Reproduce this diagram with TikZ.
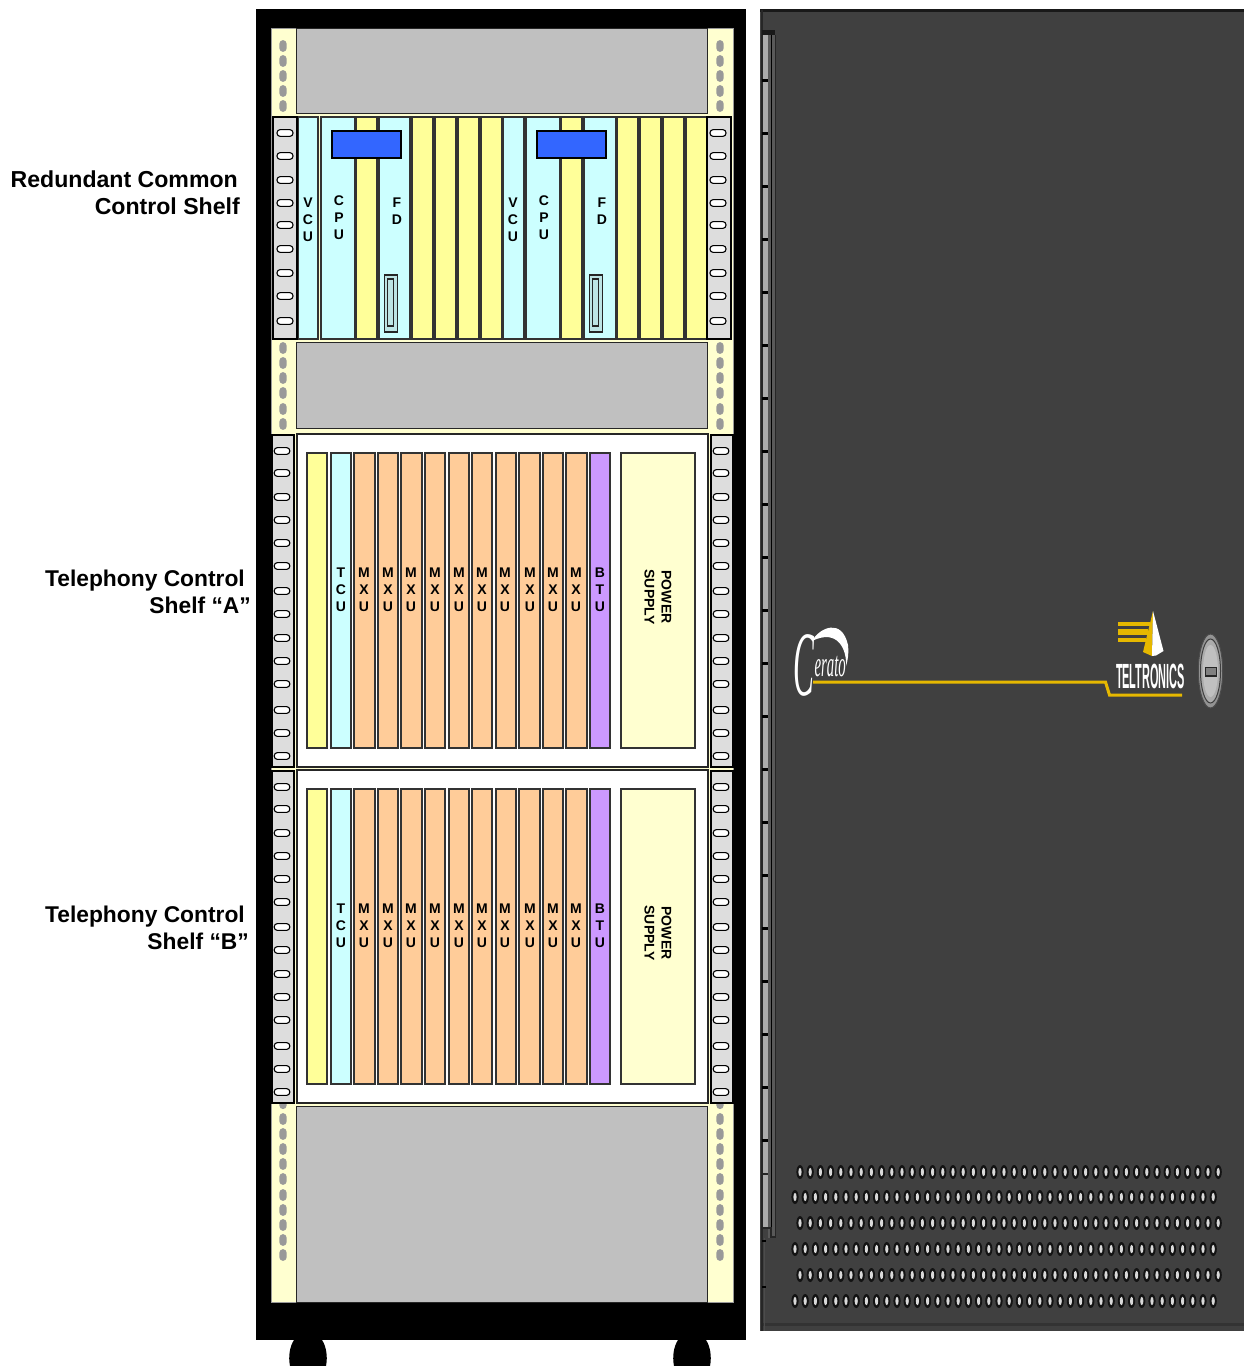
\documentclass[tikz,border=0pt]{standalone}
\usepackage{fontspec}
\setmainfont{Liberation Sans}
\newfontfamily\serifit{Liberation Serif}
\definecolor{cream}{HTML}{FFFFD0}
\definecolor{cardyellow}{HTML}{FFFF99}
\definecolor{cardcyan}{HTML}{CCFFFF}
\definecolor{cardorange}{HTML}{FFCC99}
\definecolor{cardpurple}{HTML}{CC99FF}
\definecolor{railgray}{HTML}{DDDDDD}
\definecolor{panelgray}{HTML}{C0C0C0}
\definecolor{pillgray}{HTML}{999999}
\definecolor{cabgray}{HTML}{404040}
\definecolor{logoyellow}{HTML}{E6B800}
\definecolor{cardblue}{HTML}{3366FF}
\tikzset{
  x=1pt,y=-1pt,
  card/.style={draw=black!80,line width=1.1pt},
  panel/.style={draw=black!85,line width=1pt,fill=panelgray},
  railbox/.style={draw=black,line width=2pt,fill=railgray},
  hole/.style={draw=black,line width=1.1pt,fill=white,rounded corners=3.2pt},
  pill/.style={fill=pillgray,rounded corners=3.4pt},
  shelflabel/.style={font=\fontsize{23.1}{27}\selectfont\bfseries,align=right,anchor=north east,inner sep=0pt},
  telelabel/.style={shelflabel,font=\fontsize{22.8}{27}\selectfont\bfseries},
  cardtext/.style={font=\fontsize{14}{17}\selectfont\bfseries,align=center,inner sep=0pt},
}
\newcommand{\cardbox}[3]{\draw[card,fill=#3] (#1,\cardtop) rectangle (#2,\cardbot);}
\begin{document}
\begin{tikzpicture}
\useasboundingbox (0,0) rectangle (1244,1366);
% rack body and casters
\fill[black] (256,9) rectangle (746,1340);
\foreach \c in {308,692}{
  \fill[black] (\c-14,1340) .. controls (\c-18,1346) and (\c-20,1356) .. (\c-18,1366) -- (\c+18,1366) .. controls (\c+20,1356) and (\c+18,1346) .. (\c+14,1340) -- cycle;
}
\draw[draw=pillgray,line width=.8pt,fill=cream] (271,28) rectangle (733,1302);
% blanking panels
\draw[panel] (296,28) rectangle (707,113);
\draw[panel] (296,342) rectangle (707,428);
\draw[panel] (296,1106) rectangle (707,1302);
% pills
\foreach \px in {283,720}{
  \foreach \py in {46,61,76,91,106,348,363,378,393,409,424,1119,1134,1149,1164,1179,1195,1210,1225,1240,1255}{
    \fill[pill] (\px-3.6,\py-5.8) rectangle (\px+3.6,\py+5.8);
  }
  \fill[pill] (\px-3.6,1100) rectangle (\px+3.6,1109);
}
% common shelf
\def\cardtop{117}\def\cardbot{339}
\foreach \a/\b/\f in {298/318/cardcyan,321/355/cardcyan,356/377/cardyellow,379/410/cardcyan,412/433/cardyellow,435/456/cardyellow,458/479/cardyellow,481/502/cardyellow,503/524/cardcyan,526/560/cardcyan,561/582/cardyellow,584/616/cardcyan,617/638/cardyellow,640/661/cardyellow,663/684/cardyellow,686/707/cardyellow}{
  \cardbox{\a}{\b}{\f}
}
\foreach \off in {0,205}{
  \begin{scope}[xshift=\off pt]
    \draw[draw=black,line width=1.4pt,fill=cardblue] (332,131) rectangle (401,158);
    \draw[draw=black!85,line width=1.2pt,fill=cardcyan!80!gray] (384.5,275) rectangle (397.5,332);
    \draw[draw=black!85,line width=1.2pt,fill=cardcyan!80!gray] (387.5,279) rectangle (393.5,326);
  \end{scope}
  \node[cardtext] (vcu\off) at (308+\off,220) {V\\C\\U};
  \node[cardtext] (cpu\off) at (339+\off,217.5) {C\\P\\U};
  \node[cardtext] (fd\off) at (397+\off,211) {F\\D};
}
\foreach \rx/\hx in {273/285,707/718}{
  \draw[railbox] (\rx,117) rectangle (\rx+23.5,339);
  \foreach \hy in {133,156,180,203,225,249,273,296,321}{
    \draw[hole] (\hx-8,\hy-3.4) rectangle (\hx+8,\hy+3.4);
  }
}
% telephony shelves
\foreach \s in {0,336}{
  \begin{scope}[yshift=-\s pt]
    \draw[draw=black!85,line width=1.2pt,fill=white] (297,434) rectangle (708,767);
    \foreach \rx/\hx in {272/282,710.5/721}{
      \draw[railbox] (\rx,435) rectangle (\rx+22,767);
      \foreach \hy in {451,473,497,520,543,566,591,614,638,661,684,710,733,756}{
        \draw[hole] (\hx-7.8,\hy-3.4) rectangle (\hx+7.8,\hy+3.4);
      }
    }
    \def\cardtop{453}\def\cardbot{748}
    \foreach \a/\b/\f in {307/327/cardyellow,331/351/cardcyan,354/375/cardorange,378/398/cardorange,401/422/cardorange,425/445/cardorange,449/469/cardorange,472/492/cardorange,496/516/cardorange,519/540/cardorange,543/563/cardorange,566/587/cardorange,590/610/cardpurple,621/695/cream}{
      \cardbox{\a}{\b}{\f}
    }
  \end{scope}
  \node[cardtext] (tcu\s) at (341,590+\s) {T\\C\\U};
  \foreach \mx in {364,388,411,435,459,482,505,530,553,576}{
    \node[cardtext] (mxu\mx\s) at (\mx,590+\s) {M\\X\\U};
  }
  \node[cardtext] (btu\s) at (600,590+\s) {B\\T\\U};
  \node[cardtext,rotate=-90] (psu\s) at (658,597+\s) {POWER\\SUPPLY};
}
% shelf labels
\node[shelflabel] (lblcommon) at (240,171) {Redundant Common\kern2pt\\Control Shelf};
\node[telelabel] (lbla) at (251,570) {Telephony Control\kern6pt\\Shelf “A”};
\node[telelabel] (lblb) at (249,906) {Telephony Control\kern4pt\\Shelf “B”};
% cabinet
\fill[cabgray] (760,10) rectangle (1244,1331);
\fill[black!90] (760,9) rectangle (1244,12);
\fill[black!75] (762,19) rectangle (1244,21);
\fill[black!80] (762,1323) rectangle (1244,1326);
\draw[black!85,line width=1.2pt] (762,10) -- (762,1331);
\draw[black!70,line width=1pt] (764.5,1238) -- (764.5,1331);
\fill[black!90] (762,30) rectangle (775,35);
\fill[black!65] (768,35) rectangle (775,1238);
\fill[gray!65] (762.6,35) rectangle (768,1228);
\draw[black,line width=1pt] (771.5,35) -- (771.5,1238);
\draw[black!85,line width=.8pt] (775,35) -- (775,1238);
\foreach \n in {0,...,20}{
  \fill[black] (762,79+\n*53) rectangle (768,81.5+\n*53);
}
\fill[black!85] (763,1173) rectangle (768,1175);
\draw[black!85,line width=1.3pt] (762,1228) -- (771,1228) -- (771,1237) -- (775,1237);
\foreach \ty in {1240,1286}{
  \fill[black] (762,\ty) rectangle (766,\ty+2);
}
% vents
\foreach \vy/\vx in {1172/800,1197/795,1223/800,1249/795,1275/800,1301/795}{
  \foreach \n in {0,...,41}{
    \fill[black,opacity=.7] (\vx+\n*10.2,\vy) ellipse [x radius=3.6,y radius=7];
    \fill[white!85!black] (\vx+\n*10.2,\vy) ellipse [x radius=1.6,y radius=4.2];
  }
}
% Cerato logo
\node[text=white,inner sep=0pt,xscale=.34,font=\serifit\itshape\fontsize{92}{92}\selectfont] (logoC) at (803.5,665) {C};
\node[text=white,inner sep=0pt,xscale=.41,font=\serifit\itshape\fontsize{36}{36}\selectfont,anchor=base west] (logoE) at (814.5,676) {erato};
\fill[white] (812,641) .. controls (820,627) and (842,618) .. (848,645) .. controls (849,652) and (848,660) .. (846,666) .. controls (847,650) and (838,628) .. (812,641) -- cycle;
\draw[logoyellow,line width=3pt] (813,682) -- (1105.5,682) -- (1109.5,695) -- (1182,695);
% Teltronics logo
\fill[logoyellow] (1118,622) rectangle (1150,626);
\fill[logoyellow] (1118,629) rectangle (1148,635);
\fill[logoyellow] (1118,638) rectangle (1146,641.5);
\fill[logoyellow] (1153,611) -- (1152,656) -- (1143,652) -- cycle;
\fill[white] (1153,611) -- (1163.5,651) -- (1156,655.5) -- (1152,656) -- cycle;
\node[text=white,inner sep=0pt,xscale=.312,font=\fontsize{35}{35}\selectfont\bfseries,anchor=center] (logoT) at (1150.5,676) {TELTRONICS};
% lock
\draw[draw=black!70,line width=1pt,fill=gray!85] (1210.5,671) ellipse [x radius=12.2,y radius=37];
\draw[draw=black!75,line width=1pt,fill=gray!65] (1210.5,671) ellipse [x radius=10,y radius=32];
\fill[panelgray] (1210.5,671) ellipse [x radius=7.5,y radius=26];
\draw[draw=black!85,line width=1.6pt,fill=gray] (1205.5,667.5) rectangle (1216.5,676);
\end{tikzpicture}
\end{document}
